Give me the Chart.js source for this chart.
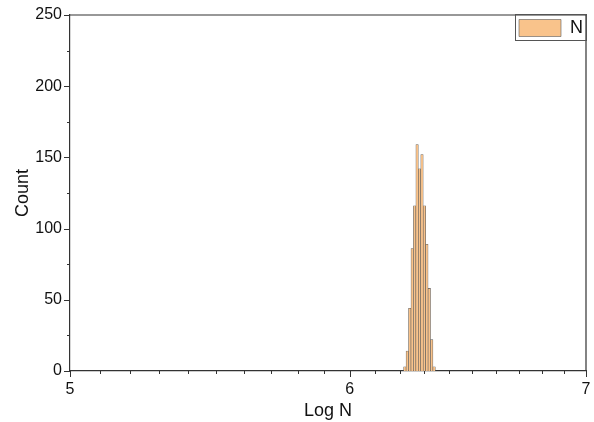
<!DOCTYPE html>
<html>
<head>
<meta charset="utf-8">
<script src="https://cdn.jsdelivr.net/npm/chart.js@4"></script>
<style>
  html, body { margin: 0; padding: 0; background: #fff; }
  #wrap { width: 594px; height: 422px; }
</style>
</head>
<body>
<div id="wrap"><canvas id="histChart"></canvas></div>
<script>
// bins of Log N (width 0.01), centre of each bin
const binCenters = [6.22, 6.23, 6.24, 6.25, 6.26, 6.27, 6.28, 6.29, 6.30, 6.31, 6.32, 6.33, 6.34];
const counts = [3, 14, 44, 86, 116, 159, 142, 152, 116, 89, 58, 22, 3];
const xMajorTicks = [5, 6, 7];
const yMajorTicks = [0, 50, 100, 150, 200, 250];

const font = "'Liberation Sans', Arial, sans-serif";
const axisColor = '#333';
const legendWidth = 71;

// minor ticks every 0.1 on x, every 25 on y
const xTickValues = [];
for (let i = 50; i <= 70; i++) xTickValues.push(i / 10);

// draws the outward tick marks, the top/right frame and the legend border
const frameTicks = {
  id: 'frameTicks',
  afterLayout(chart) {
    // move the legend box into the upper right corner of the plot
    const lg = chart.legend;
    const area = chart.chartArea;
    if (!lg) return;
    lg.left = area.right - legendWidth;
    lg.right = area.right;
    lg.top = area.top;
    lg.bottom = area.top + lg.height;
  },
  afterDraw(chart) {
    const ctx = chart.ctx;
    const area = chart.chartArea;
    const xs = chart.scales.x;
    const ys = chart.scales.y;
    ctx.save();
    ctx.strokeStyle = axisColor;
    ctx.lineWidth = 1.2;
    ctx.beginPath();
    ctx.moveTo(area.left, area.top);
    ctx.lineTo(area.right, area.top);
    ctx.lineTo(area.right, area.bottom);
    ctx.stroke();

    ctx.lineWidth = 1;
    ctx.beginPath();
    xs.ticks.forEach(t => {
      const px = Math.round(xs.getPixelForValue(t.value)) + 0.5;
      const len = xMajorTicks.includes(t.value) ? 6 : 3;
      ctx.moveTo(px, area.bottom);
      ctx.lineTo(px, area.bottom + len);
    });
    ys.ticks.forEach(t => {
      const py = Math.round(ys.getPixelForValue(t.value)) + 0.5;
      const len = yMajorTicks.includes(t.value) ? 6 : 3;
      ctx.moveTo(area.left, py);
      ctx.lineTo(area.left - len, py);
    });
    ctx.stroke();

    const lg = chart.legend;
    if (lg) {
      ctx.strokeStyle = '#555';
      ctx.lineWidth = 1;
      ctx.strokeRect(Math.round(lg.left) + 0.5, Math.round(lg.top) - 0.5, legendWidth, Math.round(lg.height));
    }
    ctx.restore();
  }
};

const histChart = new Chart(document.querySelector('#histChart'), {
  type: 'bar',
  data: {
    datasets: [
      {
        label: 'N',
        data: binCenters.map((x, i) => ({ x: x, y: counts[i] })),
        backgroundColor: '#f9c38b',
        borderColor: '#5a5a5a',
        borderWidth: 0.6,
        barPercentage: 1,
        categoryPercentage: 1,
      },
    ],
  },
  options: {
    responsive: true,
    maintainAspectRatio: false,
    animation: false,
    layout: { padding: { top: 15, right: 8, left: 0, bottom: 0 } },
    plugins: {
      tooltip: { enabled: false },
      legend: {
        position: 'chartArea',
        align: 'start',
        maxHeight: 26,
        labels: {
          boxWidth: 42,
          boxHeight: 17,
          padding: 4,
          color: '#111',
          font: { family: font, size: 18 },
        },
      },
    },
    scales: {
      x: {
        type: 'logarithmic',
        min: 5,
        max: 7,
        grid: { display: false, drawTicks: false },
        border: { display: true, color: axisColor, width: 1.2 },
        afterBuildTicks: (scale) => {
          scale.ticks = xTickValues.map(v => ({ value: v }));
        },
        afterFit: (scale) => {
          scale.height = 51;
          scale.paddingLeft = 0;
          scale.paddingRight = 0;
        },
        ticks: {
          autoSkip: false,
          maxRotation: 0,
          padding: 9,
          color: '#111',
          font: { family: font, size: 16 },
          callback: (v) => (xMajorTicks.includes(v) ? String(v) : ''),
        },
        title: {
          display: true,
          text: 'Log N',
          color: '#111',
          font: { family: font, size: 18 },
          padding: { top: 0, bottom: 0 },
        },
      },
      y: {
        min: 0,
        max: 250,
        grid: { display: false, drawTicks: false },
        border: { display: true, color: axisColor, width: 1.2 },
        afterFit: (scale) => {
          scale.width = 70;
          scale.paddingTop = 0;
          scale.paddingBottom = 0;
        },
        ticks: {
          stepSize: 25,
          padding: 8,
          color: '#111',
          font: { family: font, size: 16 },
          callback: (v) => (yMajorTicks.includes(v) ? String(v) : ''),
        },
        title: {
          display: true,
          text: 'Count',
          color: '#111',
          font: { family: font, size: 18 },
          padding: { top: 12, bottom: 0 },
        },
      },
    },
  },
  plugins: [frameTicks],
});
</script>
</body>
</html>
